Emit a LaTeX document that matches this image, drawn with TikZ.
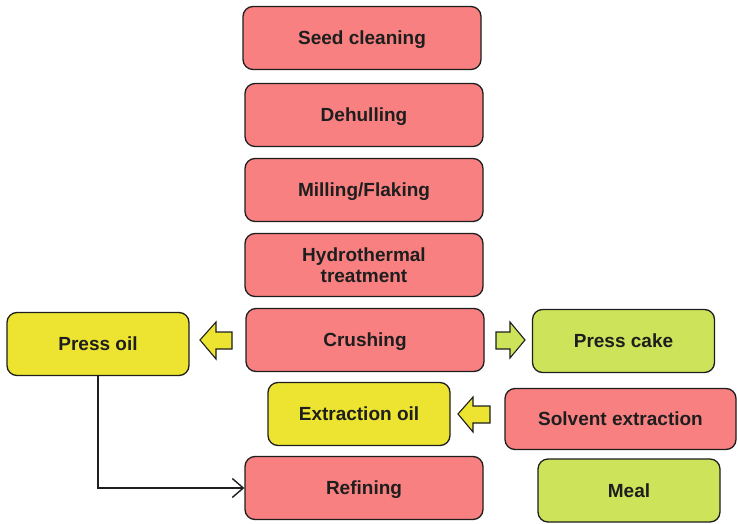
\documentclass[tikz,border=0pt]{standalone}
\usepackage{fontspec}
\setmainfont{Liberation Sans}
\usetikzlibrary{arrows.meta}

\definecolor{stepred}{RGB}{248,128,128}
\definecolor{oilyellow}{RGB}{236,228,48}
\definecolor{cakegreen}{RGB}{205,227,90}
\definecolor{inkdark}{RGB}{30,30,30}

\tikzset{
  box/.style={draw=inkdark, line width=1.3pt, rounded corners=10pt,
    minimum height=63pt, inner sep=0pt, align=center, text depth=0pt,
    font=\fontsize{19}{21.5}\selectfont\bfseries, text=inkdark},
  stepbox/.style={box, fill=stepred, minimum width=238pt},
  oilbox/.style={box, fill=oilyellow, minimum width=182pt},
  cakebox/.style={box, fill=cakegreen, minimum width=182pt},
  blockarrow/.style={draw=inkdark, line width=1.1pt, line join=miter},
  link/.style={draw=inkdark, line width=1.4pt,
    -{Straight Barb[length=11pt,width=19pt,line width=1.4pt]}}
}

\begin{document}
\begin{tikzpicture}[x=1pt,y=-1pt]
  \useasboundingbox (0,0) rectangle (738,524);

  % main process column
  \node[stepbox] (seed)    at (362,38)  {Seed cleaning};
  \node[stepbox] (dehull)  at (364,115) {Dehulling};
  \node[stepbox] (mill)    at (364,190)   {Milling/Flaking};
  \node[stepbox] (hydro)   at (364,265) {Hydrothermal\\treatment};
  \node[stepbox] (crush)   at (365,340) {Crushing};
  \node[stepbox] (refine)  at (364,488) {Refining};

  % side products
  \node[oilbox]  (pressoil)   at (98,344)  {Press oil};
  \node[cakebox] (presscake)  at (623.5,341) {Press cake};
  \node[oilbox]  (extractoil) at (359,414) {Extraction oil};
  \node[stepbox, minimum width=231pt, minimum height=61pt]
                 (solvent)    at (620.5,419) {Solvent extraction};
  \node[cakebox] (meal)       at (629,490.5)   {Meal};

  % block arrows
  \filldraw[blockarrow, fill=oilyellow]
    (200,340) -- (216,322) -- (216,332) -- (232,332) -- (232,349)
    -- (216,349) -- (216,359) -- cycle;
  \filldraw[blockarrow, fill=cakegreen]
    (525,340) -- (510,322) -- (510,332) -- (496,332) -- (496,349)
    -- (510,349) -- (510,358) -- cycle;
  \filldraw[blockarrow, fill=oilyellow]
    (458,414) -- (473,397) -- (473,406) -- (490,406) -- (490,423)
    -- (473,423) -- (473,432) -- cycle;

  % press oil goes on to refining
  \draw[link] (pressoil.south) |- (refine.west);
\end{tikzpicture}
\end{document}
